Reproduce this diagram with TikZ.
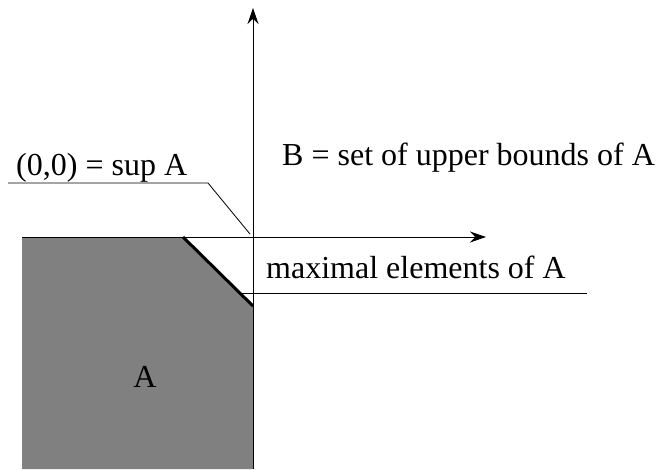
\documentclass[tikz,border=0pt]{standalone}
\usepackage{fontspec}
\setmainfont{Liberation Serif}
\usetikzlibrary{arrows.meta}
\definecolor{setgray}{RGB}{128,128,128}

\begin{document}
\begin{tikzpicture}[
  x=1pt,y=-1pt,
  axis/.style={-{Stealth[length=16pt,width=11pt]},line width=1pt},
  leader/.style={line width=0.8pt},
  lbl/.style={inner sep=0pt,anchor=base west,font=\fontsize{32}{38}\selectfont}
]
\useasboundingbox (0,0) rectangle (663,469);
% points of the picture
\coordinate (xstart) at (22,237);
\coordinate (xend) at (486,237);
\coordinate (ystart) at (253,469);
\coordinate (yend) at (253,8);
\coordinate (cutA) at (183,237);
\coordinate (cutB) at (253,306);
% the set A
\fill[setgray] (22,469) -- (xstart) -- (cutA) -- (cutB) -- (ystart) -- cycle;
\draw[line width=3pt] (cutA) -- (cutB);
% axes
\draw[axis] (xstart) -- (xend);
\draw[axis] (ystart) -- (yend);
% labels
\node[lbl] (sup) at (16,175) {(0,0) = sup A};
\coordinate (supL) at (8,183);
\coordinate (supK) at (208,183);
\coordinate (supE) at (250,234);
\draw[leader] (supL) -- (supK) -- (supE);
\node[lbl] (bset) at (282,165) {B = set of upper bounds of A};
\node[lbl] (maxl) at (266,278) {maximal elements of A};
\coordinate (maxL) at (240,293);
\coordinate (maxR) at (587,293);
\draw[leader] (maxL) -- (maxR);
\node[inner sep=0pt,font=\fontsize{32}{38}\selectfont] (aset) at (145,377) {A};
\end{tikzpicture}
\end{document}
